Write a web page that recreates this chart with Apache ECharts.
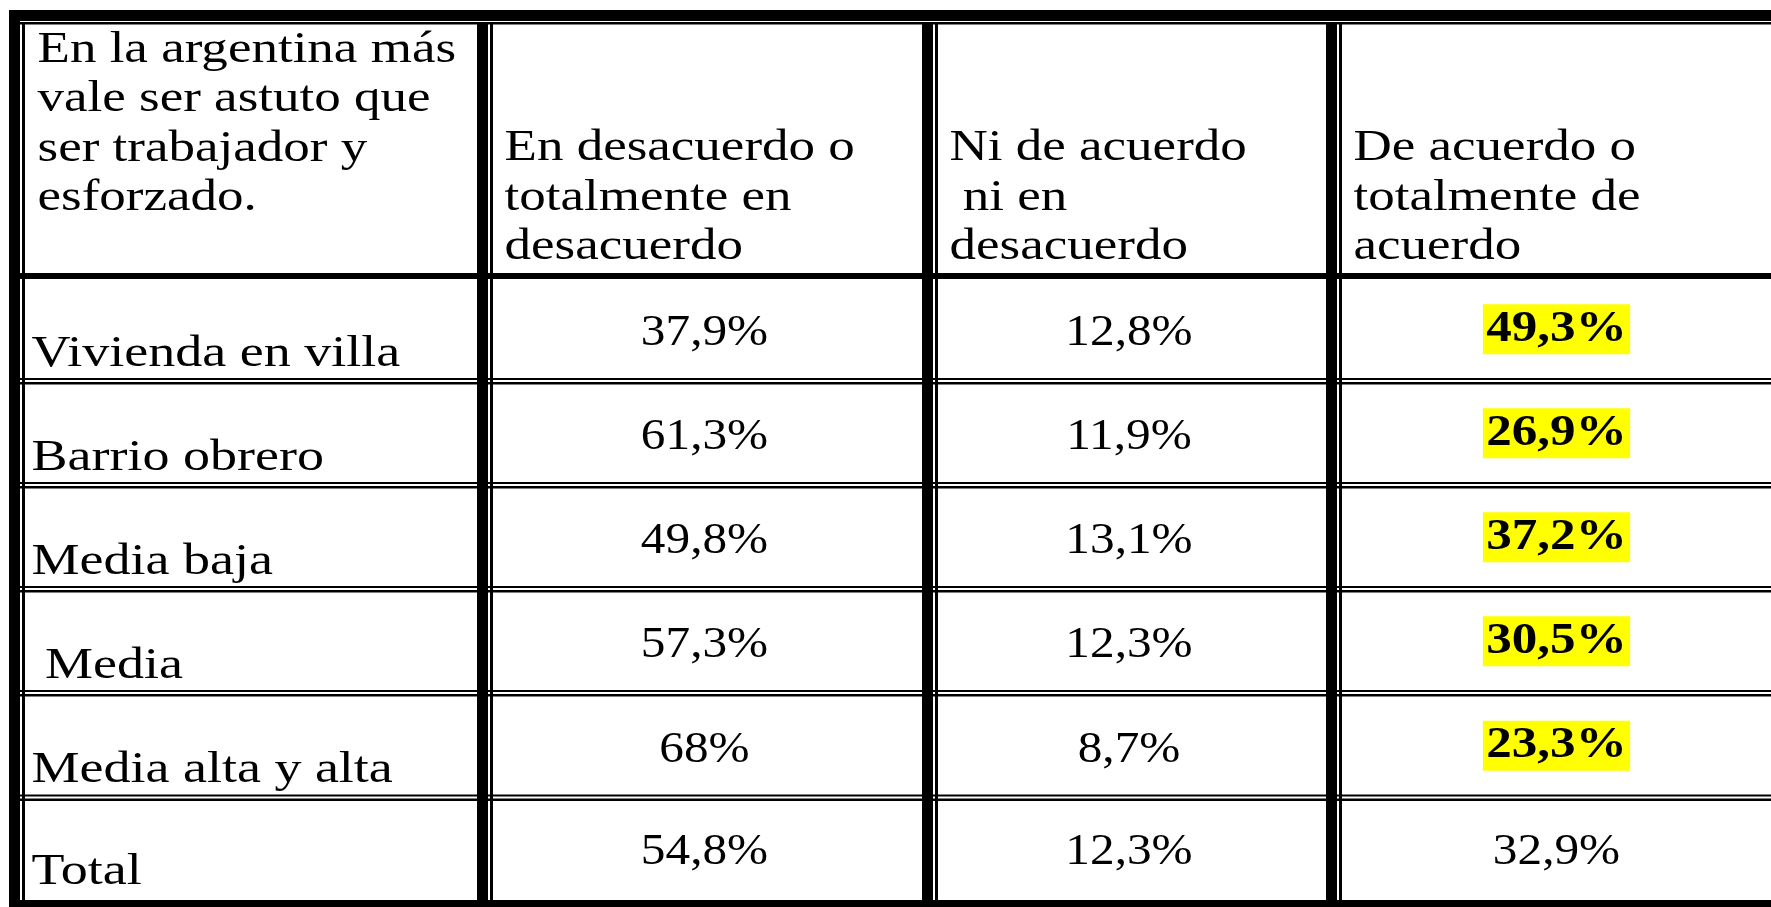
<!DOCTYPE html>
<html><head><meta charset="utf-8">
<script src="https://cdn.jsdelivr.net/npm/echarts@6/dist/echarts.min.js"></script>
<style>html,body{margin:0;padding:0;background:#fff;}#main{width:1771px;height:907px;}</style>
</head><body><div id="main"></div>
<script>
// ---- data ----
const headerTitle = ['En la argentina más', 'vale ser astuto que', 'ser trabajador y', 'esforzado.'];
const columnHeaders = [
  ['En desacuerdo o', 'totalmente en', 'desacuerdo'],
  ['Ni de acuerdo', ' ni en', 'desacuerdo'],
  ['De acuerdo o', 'totalmente de', 'acuerdo']
];
const categories = ['Vivienda en villa', 'Barrio obrero', 'Media baja', ' Media', 'Media alta y alta', 'Total'];
const desacuerdo = [37.9, 61.3, 49.8, 57.3, 68, 54.8];
const neutral = [12.8, 11.9, 13.1, 12.3, 8.7, 12.3];
const acuerdo = [49.3, 26.9, 37.2, 30.5, 23.3, 32.9];
const highlighted = [true, true, true, true, true, false];

// ---- layout ----
const W = 1771, H = 907;
const colEdges = [23, 490, 935, 1339, 1790];
const rowEdges = [22, 276, 381.5, 485.5, 589.5, 693.5, 798, 900];
const FONT = '"Liberation Serif", "Times New Roman", serif';
const FS = 45, SX_HEAD = 1.178, SX_LABEL = 1.2, SX_VAL = 1.095, SX_BOLD = 1.135, LINE = 49.5;
const MID = 0.3375; // baseline offset from middle, in em

function fmt(v) { return String(v).replace('.', ',') + '%'; }

function textEl(api, x, baseline, text, align, sx, extraStyle) {
  const p = api.coord([x, baseline - MID * FS]);
  return {
    type: 'text', x: p[0], y: p[1], scaleX: sx, scaleY: 1,
    style: Object.assign({
      text: text, fontFamily: FONT, fontSize: FS, fill: '#000',
      align: align, verticalAlign: 'middle', lineHeight: FS
    }, extraStyle || {})
  };
}

const headerData = [0, 1, 2, 3].map(c => [c]);
const labelData = categories.map((c, r) => [r]);
const valueData = [];
[desacuerdo, neutral, acuerdo].forEach((arr, c) => arr.forEach((v, r) => valueData.push([c, r, v, (c === 2 && highlighted[r]) ? 1 : 0])));

function renderHeader(params, api) {
  const c = api.value(0);
  const lines = c === 0 ? headerTitle : columnHeaders[c - 1];
  const x = colEdges[c] + 14.5;
  const children = lines.map((t, i) => {
    const b = c === 0 ? rowEdges[0] + 43 + i * LINE : rowEdges[1] - 13.5 - (lines.length - 1 - i) * LINE;
    return textEl(api, x, b, t, 'left', SX_HEAD);
  });
  return { type: 'group', children: children };
}
function renderLabel(params, api) {
  const r = api.value(0);
  return textEl(api, colEdges[0] + 8.5, rowEdges[r + 2] - 12.5, categories[r], 'left', SX_LABEL);
}
function renderValue(params, api) {
  const c = api.value(0), r = api.value(1), v = api.value(2), hl = api.value(3);
  const cx = (colEdges[c + 1] + 3 + colEdges[c + 2] - 13) / 2 - 3;
  const bottom = rowEdges[r + 2];
  if (hl) {
    return textEl(api, cx, bottom - 37, fmt(v), 'center', SX_BOLD,
      { fontWeight: 'bold', backgroundColor: '#ffff00', padding: [0, 3, 0, 3], lineHeight: 50 });
  }
  return textEl(api, cx, bottom - 33, fmt(v), 'center', SX_VAL);
}

// ---- borders (table rules) ----
function rect(x0, y0, x1, y1) {
  return { type: 'rect', shape: { x: x0, y: y0, width: x1 - x0, height: y1 - y0 }, style: { fill: '#000' }, silent: true };
}
const rules = [];
rules.push(rect(9, 10, W, 21));          // top thick
rules.push(rect(20, 22, W, 24.5));       // top thin
rules.push(rect(9, 10, 20, H));          // left thick
rules.push(rect(22, 22, 25, 903));       // left thin
[[477, 488], [922, 933], [1326, 1337]].forEach(d => rules.push(rect(d[0], 22, d[1], H)));
[[490, 493], [935, 938], [1339, 1342]].forEach(d => rules.push(rect(d[0], 22, d[1], 903)));
rules.push(rect(20, 273, W, 279));       // header bottom
rowEdges.slice(2, 7).forEach(y => { rules.push(rect(20, y - 3.5, W, y - 1.5)); rules.push(rect(20, y + 0.5, W, y + 3)); });
rules.push(rect(9, 900, W, H));          // bottom thick

const chart = echarts.init(document.getElementById('main'), null, { renderer: 'canvas' });
chart.setOption({
  backgroundColor: '#fff',
  animation: false,
  grid: { left: 0, right: 0, top: 0, bottom: 0 },
  xAxis: { type: 'value', min: 0, max: W, show: false },
  yAxis: { type: 'value', min: 0, max: H, inverse: true, show: false },
  series: [
    { type: 'custom', name: 'header', data: headerData, renderItem: renderHeader, clip: false, silent: true },
    { type: 'custom', name: 'labels', data: labelData, renderItem: renderLabel, clip: false, silent: true },
    { type: 'custom', name: 'values', data: valueData, renderItem: renderValue, clip: false, silent: true }
  ],
  graphic: rules
});
</script></body></html>
